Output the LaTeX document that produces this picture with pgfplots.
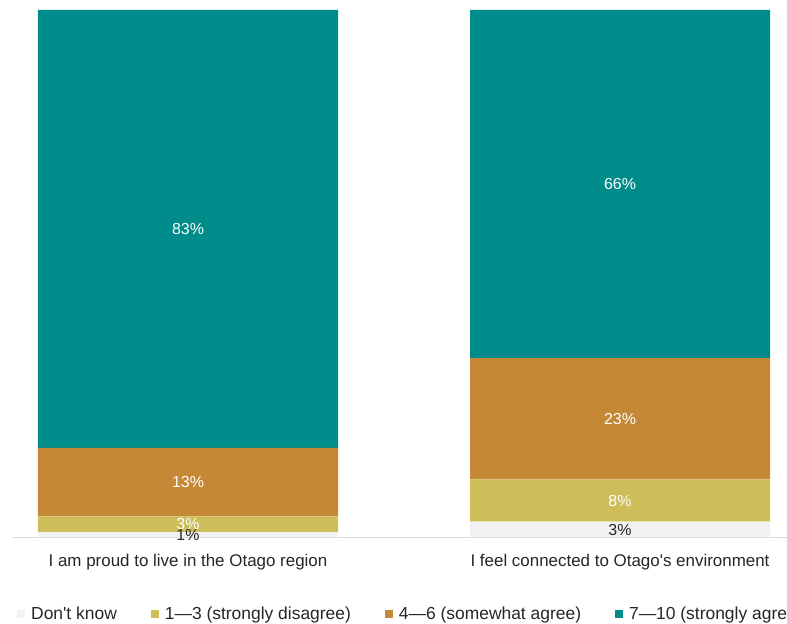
\documentclass[border=0pt]{standalone}
\usepackage{pgfplots}
\pgfplotsset{compat=1.18}
\usepackage{fontspec}
\setmainfont{Liberation Sans}
\definecolor{dontknow}{HTML}{F2F2F2}
\definecolor{disagree}{HTML}{CDBE5A}
\definecolor{somewhat}{HTML}{C58835}
\definecolor{strong}{HTML}{008C8A}
\definecolor{axisgrey}{HTML}{D9D9D9}
\definecolor{labeldark}{HTML}{262626}

\begin{document}
\begin{tikzpicture}[x=1bp,y=1bp]
\useasboundingbox (0,0) rectangle (787,624);
\begin{axis}[
  at={(12bp,86.5bp)}, anchor=south west,
  scale only axis, width=775bp, height=527.5bp,
  ybar stacked, bar width=300bp,
  xmin=-0.4074, xmax=1.3866, ymin=0, ymax=100,
  hide y axis,
  axis x line*=bottom,
  x axis line style={draw=axisgrey, line width=1bp, -},
  xtick={0,1}, major tick length=0pt,
  xticklabels={I am proud to live in the Otago region, I feel connected to Otago\textquotesingle{}s environment},
  xticklabel style={font=\fontsize{17}{19}\selectfont, text=labeldark, yshift=-13bp},
  /pgf/number format/assume math mode=true,
  point meta=explicit,
  nodes near coords={\pgfmathprintnumber{\pgfplotspointmeta}\%},
  every node near coord/.append style={font=\fontsize{16}{18}\selectfont},
  legend columns=4,
  legend style={at={(axis description cs:0,0)}, anchor=west, xshift=5bp, yshift=-76.5bp,
    draw=none, fill=none, inner sep=0pt, font=\fontsize{17.5}{19}\selectfont, text=labeldark,
    /tikz/every odd column/.append style={column sep=4bp},
    /tikz/every even column/.append style={column sep=32bp}},
  legend image code/.code={\path[#1,draw=none] (0bp,-4bp) rectangle (8bp,4bp);},
]
\addplot[fill=dontknow, draw=none, every node near coord/.append style={text=labeldark}]
  coordinates {(0,1) [1] (1,3) [3]};
\addplot[fill=disagree, draw=none, every node near coord/.append style={text=white}]
  coordinates {(0,3) [3] (1,8) [8]};
\addplot[fill=somewhat, draw=none, every node near coord/.append style={text=white}]
  coordinates {(0,13) [13] (1,23) [23]};
\addplot[fill=strong, draw=none, every node near coord/.append style={text=white}]
  coordinates {(0,83) [83] (1,66) [66]};
\legend{Don\textquotesingle{}t know, 1—3 (strongly disagree), 4—6 (somewhat agree), 7—10 (strongly agree)}
\end{axis}
\end{tikzpicture}
\end{document}
